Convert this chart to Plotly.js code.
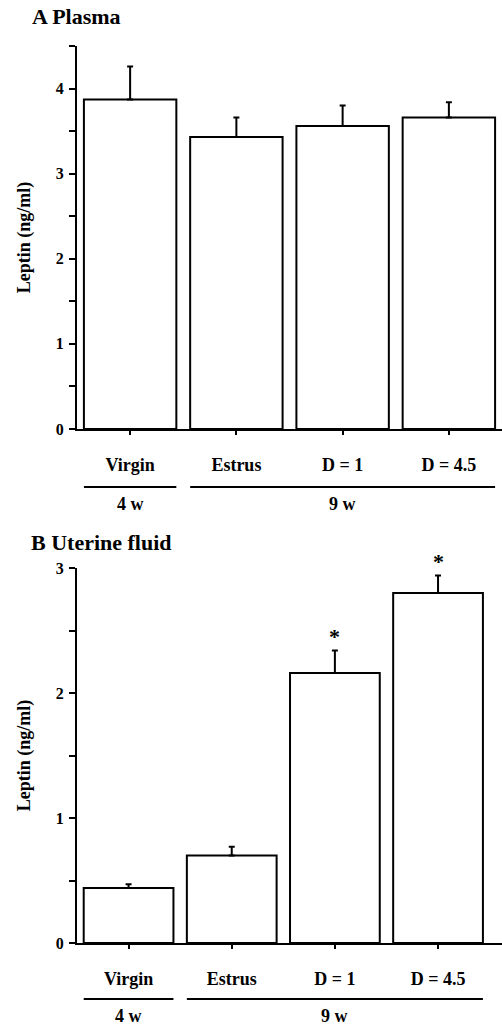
<!DOCTYPE html>
<html>
<head>
<meta charset="utf-8">
<script src="https://cdn.plot.ly/plotly-3.0.1.min.js"></script>
<style>html,body{margin:0;padding:0;background:#fff;}</style>
</head>
<body>
<div id="chart" style="width:502px;height:1026px;"></div>
<script>
// ---- data ----
const categories = ['Virgin', 'Estrus', 'D = 1', 'D = 4.5'];
const plasmaMean = [3.87, 3.43, 3.56, 3.66];
const plasmaErr  = [0.39, 0.23, 0.24, 0.18];
const uterineMean = [0.44, 0.70, 2.16, 2.80];
const uterineErr  = [0.03, 0.07, 0.18, 0.14];
const uterineSig  = ['', '', '*', '*'];
const groupLabels = ['4 w', '9 w'];
const groupStart  = [0, 1];
const groupEnd    = [0, 3];
const panelTitles = ['A Plasma', 'B Uterine fluid'];
const yTitle = 'Leptin (ng/ml)';

const FONT = 'Liberation Serif, Times New Roman, serif';
const idx = categories.map((c, i) => i);
const zeros = categories.map(() => 0);
const BARW = 0.87;

function barTrace(y, err, xa, ya) {
  return {
    type: 'bar', x: idx, y: y, xaxis: xa, yaxis: ya,
    width: BARW,
    marker: {color: '#ffffff', line: {color: '#000', width: 2}},
    error_y: {type: 'data', symmetric: false, array: err, arrayminus: zeros,
              color: '#000', thickness: 2, width: 3},
    showlegend: false, hoverinfo: 'skip'
  };
}

const data = [
  barTrace(plasmaMean, plasmaErr, 'x', 'y'),
  barTrace(uterineMean, uterineErr, 'x2', 'y2')
];

function xAxis(range, anchor) {
  return {
    anchor: anchor, range: range, domain: [77/502, 1],
    tickmode: 'array', tickvals: idx, ticktext: categories,
    ticks: 'outside', ticklen: 4, tickwidth: 2, tickcolor: '#000',
    ticklabelstandoff: 14,
    showline: true, linecolor: '#000', linewidth: 2,
    showgrid: false, zeroline: false,
    tickfont: {family: FONT, size: 18, color: '#000', weight: 'bold'}
  };
}
function yAxis(range, domain, anchor) {
  return {
    anchor: anchor, range: range, domain: domain,
    dtick: 1, tick0: 0,
    ticks: 'outside', ticklen: 6, tickwidth: 2, tickcolor: '#000',
    minor: {dtick: 0.5, ticks: 'outside', ticklen: 6, tickwidth: 2, tickcolor: '#000', showgrid: false},
    showline: true, linecolor: '#000', linewidth: 2,
    showgrid: false, zeroline: false,
    ticklabelstandoff: 2,
    tickfont: {family: FONT, size: 16, color: '#000', weight: 'bold'},
    title: {text: yTitle, standoff: 20, font: {family: FONT, size: 18, color: '#000', weight: 'bold'}}
  };
}

const H = 1026;
const layout = {
  width: 502, height: 1026,
  margin: {l: 0, r: 0, t: 0, b: 0},
  paper_bgcolor: '#fff', plot_bgcolor: '#fff',
  xaxis: xAxis([-0.5, 3.5], 'y'),
  yaxis: yAxis([0, 4.5], [(H-429)/H, (H-46)/H], 'x'),
  xaxis2: xAxis([-0.5, 3.62], 'y2'),
  yaxis2: yAxis([0, 3], [(H-943)/H, (H-568)/H], 'x2'),
  shapes: [], annotations: []
};

// panel titles
layout.annotations.push({text: panelTitles[0], xref: 'paper', yref: 'paper', x: 30/502, y: (H-16)/H,
  xanchor: 'left', yanchor: 'middle', showarrow: false,
  font: {family: FONT, size: 22, color: '#000', weight: 'bold'}});
layout.annotations.push({text: panelTitles[1], xref: 'paper', yref: 'paper', x: 29/502, y: (H-542)/H,
  xanchor: 'left', yanchor: 'middle', showarrow: false,
  font: {family: FONT, size: 22, color: '#000', weight: 'bold'}});

// group lines + labels
const groupPos = [{xa: 'x', lineY: 487, labY: 504}, {xa: 'x2', lineY: 999, labY: 1016}];
groupPos.forEach(p => {
  groupLabels.forEach((g, k) => {
    layout.shapes.push({type: 'line', xref: p.xa, yref: 'paper',
      x0: groupStart[k] - BARW/2, x1: groupEnd[k] + BARW/2,
      y0: (H-p.lineY)/H, y1: (H-p.lineY)/H, line: {color: '#000', width: 2}});
    layout.annotations.push({text: g, xref: p.xa, yref: 'paper',
      x: (groupStart[k] + groupEnd[k]) / 2, y: (H-p.labY)/H,
      xanchor: 'center', yanchor: 'middle', showarrow: false,
      font: {family: FONT, size: 18, color: '#000', weight: 'bold'}});
  });
});

// significance asterisks
uterineSig.forEach((s, i) => {
  if (!s) return;
  layout.annotations.push({text: s, xref: 'x2', yref: 'y2', x: i, y: uterineMean[i] + uterineErr[i],
    xanchor: 'center', yanchor: 'bottom', yshift: 0, showarrow: false,
    font: {family: FONT, size: 22, color: '#000', weight: 'bold'}});
});

Plotly.newPlot('chart', data, layout, {staticPlot: true, displayModeBar: false});
</script>
</body>
</html>
